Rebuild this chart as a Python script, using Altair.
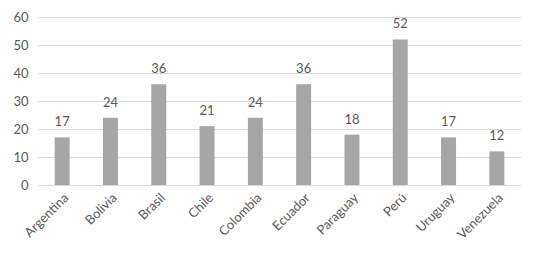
import altair as alt
import pandas as pd

paises = ["Argentina", "Bolivia", "Brasil", "Chile", "Colombia", "Ecuador",
          "Paraguay", "Perú", "Uruguay", "Venezuela"]
valores = [17, 24, 36, 21, 24, 36, 18, 52, 17, 12]

df = pd.DataFrame({"pais": paises, "valor": valores})

FONT = "Lato"
TXT = "#595959"

base = alt.Chart(df).encode(
    x=alt.X("pais:N", sort=paises, title=None,
            scale=alt.Scale(paddingInner=0.69, paddingOuter=0.345),
            axis=alt.Axis(labelAngle=-45, labelAlign="right", labelBaseline="top",
                          labelFont=FONT, labelFontSize=13, labelColor=TXT,
                          ticks=False, domainColor="#d9d9d9", labelPadding=6,
                          grid=False)),
    y=alt.Y("valor:Q", title=None,
            scale=alt.Scale(domain=[0, 60], nice=False),
            axis=alt.Axis(values=[0, 10, 20, 30, 40, 50, 60], domain=False, ticks=False,
                          labelFont=FONT, labelFontSize=13, labelColor=TXT,
                          labelPadding=10, gridColor="#d9d9d9", gridWidth=1)),
)

bars = base.mark_bar(color="#a6a6a6")
labels = base.mark_text(dy=-8, font=FONT, fontSize=13, color=TXT, baseline="bottom").encode(
    text="valor:Q")

chart = (bars + labels).properties(
    width=483, height=168,
    autosize=alt.AutoSizeParams(type="none"),
    padding={"left": 30, "top": 9, "right": 0, "bottom": 70},
).configure_view(stroke=None)

chart.save("out.html", embed_options={"renderer": "svg", "actions": False})
